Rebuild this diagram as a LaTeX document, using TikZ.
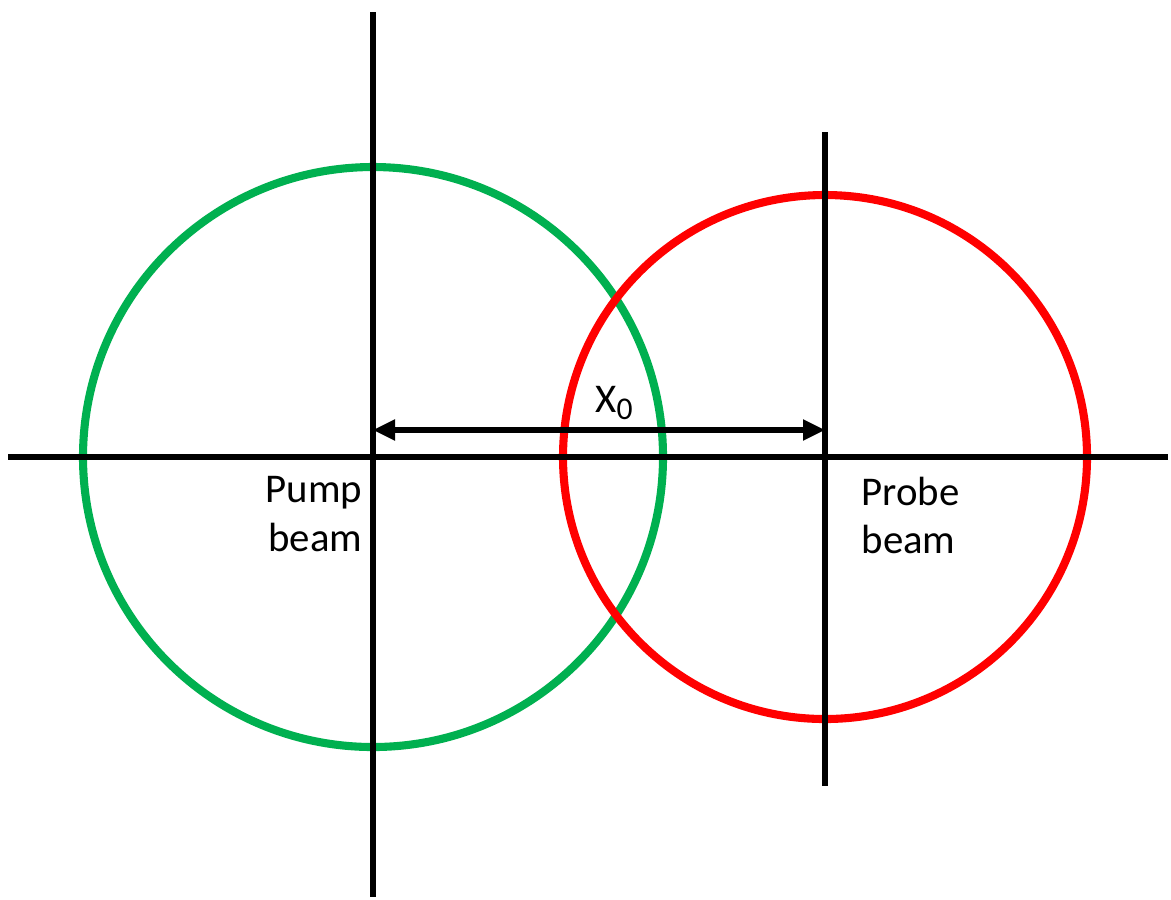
\documentclass[tikz,border=0pt]{standalone}
\usepackage{fontspec}
\setmainfont{Carlito}
\usetikzlibrary{arrows.meta,positioning}
\definecolor{pumpgreen}{RGB}{0,176,80}
\definecolor{probered}{RGB}{255,0,0}

\begin{document}
\begin{tikzpicture}[x=0.01cm, y=-0.01cm, >={Triangle[length=0.22cm,width=0.2cm]}]
  \useasboundingbox (0,0) rectangle (1171,899);
  \tikzset{axis/.style={line width=1.45pt, black},
           beam/.style={line width=2.3pt},
           lbl/.style={font=\fontsize{11.6}{13.7}\selectfont, inner sep=0pt}}

  % centres of the two beams
  \coordinate (pump) at (373,457);
  \coordinate (probe) at (825,457);

  % beams
  \draw[beam, pumpgreen] (pump) circle[radius=290];
  \draw[beam, probered] (probe) circle[radius=262];

  % axes
  \draw[axis] (8,457) -- (1168,457);
  \draw[axis] (373,12) -- (373,897);
  \draw[axis] (825,132) -- (825,786);

  % offset
  \draw[axis, <->] ([yshift=0.27cm]pump) -- ([yshift=0.27cm]probe);
  \node[lbl] (offset) at (614,403) {X\raisebox{-0.35ex}{\fontsize{9}{9}\selectfont 0}};

  \node[lbl, align=right, anchor=north east] (pumplbl) at (363,476) {Pump\\beam};
  \node[lbl, align=left, anchor=north west] (probelbl) at (861,476) {Probe\\beam};
\end{tikzpicture}
\end{document}
